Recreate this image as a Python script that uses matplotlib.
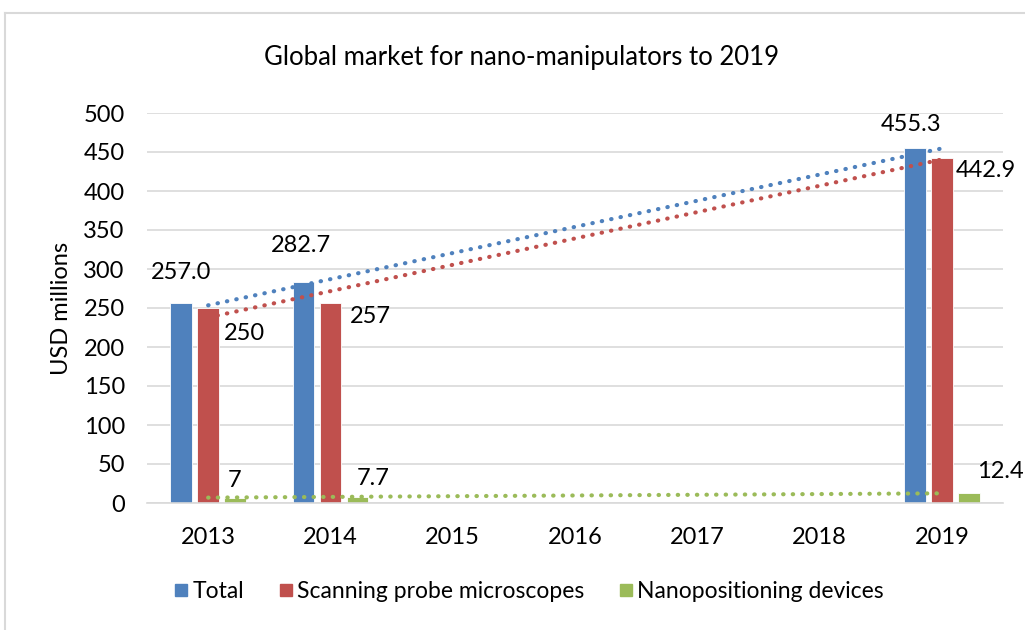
import numpy as np
import matplotlib.pyplot as plt
from matplotlib.lines import Line2D

plt.rcParams['font.family'] = ['Lato', 'DejaVu Sans']

# Data
years = ['2013', '2014', '2015', '2016', '2017', '2018', '2019']
data_years = ['2013', '2014', '2019']
total = [257.0, 282.7, 455.3]
spm = [250, 257, 442.9]
nano = [7, 7.7, 12.4]
total_labels = ['257.0', '282.7', '455.3']
spm_labels = ['250', '257', '442.9']
nano_labels = ['7', '7.7', '12.4']

blue = '#4F81BD'
red = '#C0504D'
green = '#9BBB59'

fig = plt.figure(figsize=(10.25, 6.3), dpi=100)
ax = fig.add_axes([147 / 1025, 1 - 503 / 630, 856 / 1025, 390 / 630])

x = np.array([years.index(y) for y in data_years])
w = 0.176
step = 0.22

ax.bar(x - step, total, w, color=blue, edgecolor='white', linewidth=0.6, zorder=2, label='Total')
ax.bar(x, spm, w, color=red, edgecolor='white', linewidth=0.6, zorder=2, label='Scanning probe microscopes')
ax.bar(x + step, nano, w, color=green, edgecolor='white', linewidth=0.6, zorder=2, label='Nanopositioning devices')

# linear trendlines (excel style, x = category index)
xs = np.array([x.min(), x.max()])
for vals, c in [(total, blue), (spm, red), (nano, green)]:
    k, b = np.polyfit(x, vals, 1)
    ax.plot(xs, k * xs + b, color=c, linestyle=(0, (0.1, 2.2)), linewidth=3,
            dash_capstyle='round', zorder=3)

# data labels (offsets in pixels)
fs = 17
tot_off = [(0, 30), (-3, 37), (-4, 23)]
spm_off = [(36, -25), (40, -14), (44, -13)]
nano_off = [(0, 17), (16, 18), (32, 22)]
for i in range(len(x)):
    ax.annotate(total_labels[i], (x[i] - step, total[i]), xytext=tot_off[i],
                textcoords='offset pixels', ha='center', va='center', fontsize=fs)
    ax.annotate(spm_labels[i], (x[i], spm[i]), xytext=spm_off[i],
                textcoords='offset pixels', ha='center', va='center', fontsize=fs)
    ax.annotate(nano_labels[i], (x[i] + step, nano[i]), xytext=nano_off[i],
                textcoords='offset pixels', ha='center', va='center', fontsize=fs)

ax.set_xlim(-0.5, len(years) - 0.5)
ax.set_ylim(0, 500)
ax.set_yticks(np.arange(0, 501, 50))
ax.set_xticks(range(len(years)))
ax.set_xticklabels(years)
ax.tick_params(axis='both', length=0, labelsize=fs)
ax.tick_params(axis='y', pad=16)
ax.tick_params(axis='x', pad=17)
ax.grid(axis='y', color='#D9D9D9', linewidth=1.2, zorder=0)
ax.set_axisbelow(True)
for s in ['top', 'right', 'left']:
    ax.spines[s].set_visible(False)
ax.spines['bottom'].set_color('#D9D9D9')
ax.spines['bottom'].set_linewidth(1.2)

ax.set_ylabel('USD millions', fontsize=fs, labelpad=8)
fig.text(522 / 1025, 1 - 58 / 630, 'Global market for nano-manipulators to 2019',
         ha='center', va='center', fontsize=18.5)

handles = [Line2D([], [], marker='s', linestyle='none', markersize=9, color=c)
           for c in (blue, red, green)]
fig.legend(handles, ['Total', 'Scanning probe microscopes', 'Nanopositioning devices'],
           loc='center', bbox_to_anchor=(528 / 1025, 1 - 592 / 630), ncol=3,
           frameon=False, fontsize=16.5, handletextpad=0.1, columnspacing=1.4,
           handlelength=0.8)

# chart border
fig.add_artist(Line2D([5 / 1025, 5 / 1025], [0, 1 - 13 / 630], color='#D9D9D9', linewidth=1.5))
fig.add_artist(Line2D([5 / 1025, 1], [1 - 13 / 630, 1 - 13 / 630], color='#D9D9D9', linewidth=1.5))

fig.savefig('out.png', dpi=100)
